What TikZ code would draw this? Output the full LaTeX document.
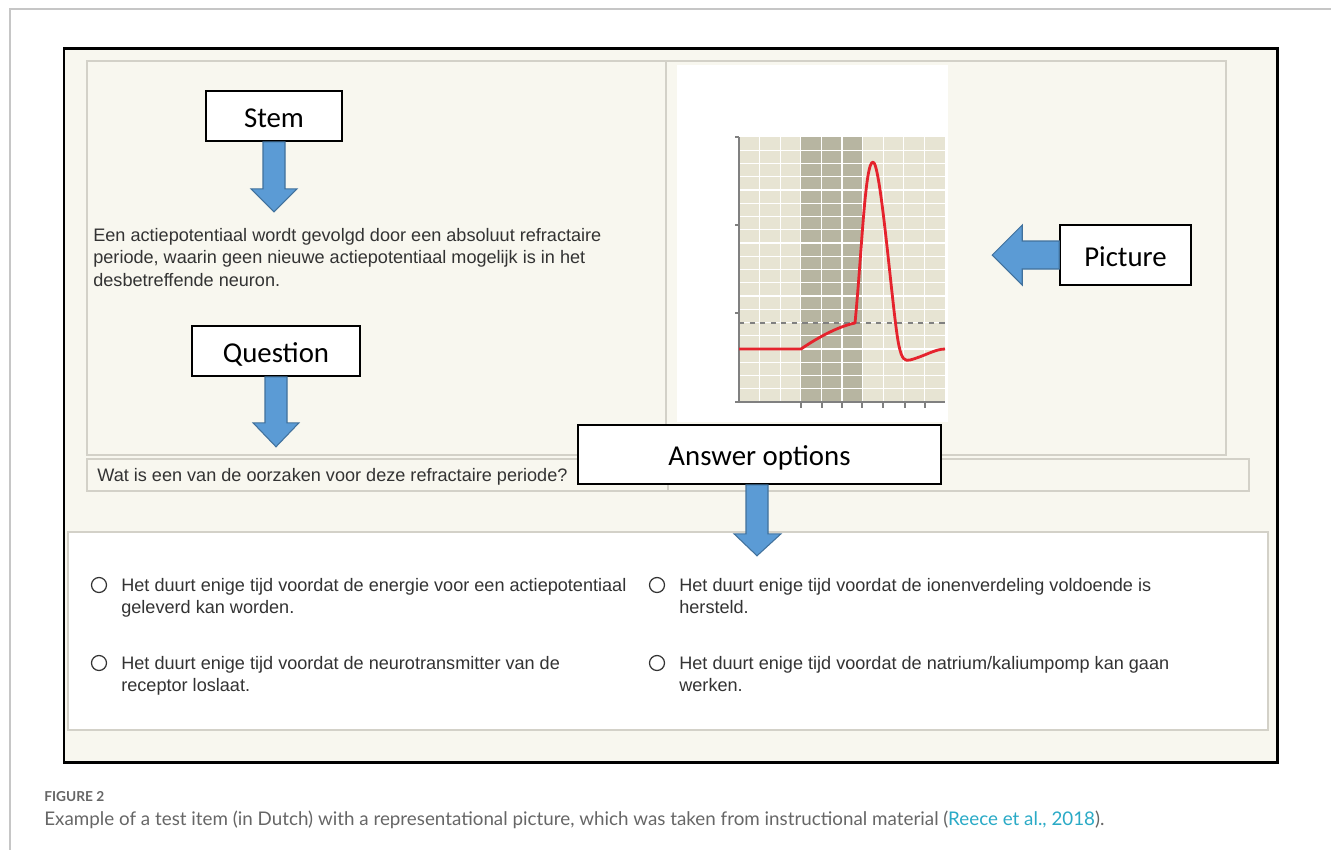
\documentclass[tikz,border=0pt]{standalone}
\usepackage{fontspec}
\setmainfont{Liberation Sans}
\newfontfamily\calloutfont{Carlito}
\newfontfamily\captionfont{Lato}
\usetikzlibrary{calc}

\definecolor{framecream}{HTML}{F8F7EF}
\definecolor{panelline}{HTML}{D3D1C8}
\definecolor{arrowblue}{HTML}{5B9BD5}
\definecolor{arrowedge}{HTML}{41719C}
\definecolor{gridbg}{HTML}{E7E4D3}
\definecolor{gridband}{HTML}{B7B5A1}
\definecolor{curvered}{HTML}{E5232D}
\definecolor{itemgray}{HTML}{333333}
\definecolor{capgray}{HTML}{666666}
\definecolor{citeteal}{HTML}{2AAAC6}
\definecolor{pageline}{HTML}{C6C6C6}

\tikzset{
  callout/.style={draw=black, line width=0.9pt, fill=white, inner sep=0pt, text height=12.6pt, text depth=0pt,
    font=\calloutfont\fontsize{16.4}{19}\selectfont},
  blockarrow/.style={fill=arrowblue, draw=arrowedge, line width=0.6pt},
  itemtext/.style={inner sep=0pt, anchor=north west, align=left, text=itemgray, font=\fontsize{10.3}{12.75}\selectfont},
  radio/.style={circle, draw=itemgray, line width=0.7pt, minimum size=0.3cm, inner sep=0pt},
  panel/.style={draw=panelline, line width=0.7pt},
}

\begin{document}
\begin{tikzpicture}[x=0.02cm, y=-0.02cm]
  \useasboundingbox (0,0) rectangle (1331,850);
  % page edge
  \draw[pageline, line width=0.8pt] (1331,9) -- (10,9) -- (10,850);
  % test item frame
  \fill[framecream] (64,48) rectangle (1277,762);
  \draw[panel] (87,61) rectangle (1226,455);
  \draw[panel] (666,61) -- (666,455);
  \draw[panel] (87,459) rectangle (1249,491);
  \draw[panel] (668,459) -- (668,491);
  \draw[panel, fill=white] (68,532) rectangle (1268,730);
  \draw[line width=1.7pt] (64,48) rectangle (1277,762);

  % action potential picture
  \fill[white] (677,65) rectangle (948,422);
  \fill[gridbg] (739,137) rectangle (945,402);
  \fill[gridband] (801,137) rectangle (862,402);
  \foreach \k in {1,...,9}
    \draw[white, line width=0.7pt] ({739+20.6*\k},137) -- ++(0,265);
  \foreach \k in {1,...,19}
    \draw[white, line width=0.6pt] (739,{137+13.25*\k}) -- ++(206,0);
  \draw[gray, line width=0.8pt] (739,137) -- (739,402) -- (945,402);
  \foreach \ty in {137,225,313,402}
    \draw[gray, line width=0.6pt] (735,\ty) -- (739,\ty);
  \foreach \tx in {801,822,842,862,883,905,925}
    \draw[gray, line width=0.6pt] (\tx,402) -- (\tx,408);
  \draw[gray, dashed, line width=0.9pt] (739,323) -- (945,323);
  \draw[curvered, line width=1.6pt, line join=round]
    (739,349) -- (801,349) .. controls (820,336) and (840,326) .. (855,323)
    .. controls (862,250) and (865,162) .. (873,162)
    .. controls (881,162) and (893,320) .. (899,346)
    .. controls (902,360) and (905,361) .. (910,360)
    .. controls (925,356) and (935,349) .. (945,349);

  % texts of the item
  \node[itemtext] (stemtext) at (93,228) {Een actiepotentiaal wordt gevolgd door een absoluut refractaire\\periode, waarin geen nieuwe actiepotentiaal mogelijk is in het\\desbetreffende neuron.};
  \node[itemtext] (questiontext) at (97,468) {Wat is een van de oorzaken voor deze refractaire periode?};
  \node[radio] (radioA) at (99,585) {};
  \node[itemtext] (optA) at (121,578) {Het duurt enige tijd voordat de energie voor een actiepotentiaal\\geleverd kan worden.};
  \node[radio] (radioB) at (657,585) {};
  \node[itemtext] (optB) at (679,578) {Het duurt enige tijd voordat de ionenverdeling voldoende is\\hersteld.};
  \node[radio] (radioC) at (99,663) {};
  \node[itemtext] (optC) at (121,656) {Het duurt enige tijd voordat de neurotransmitter van de\\receptor loslaat.};
  \node[radio] (radioD) at (657,663) {};
  \node[itemtext] (optD) at (679,656) {Het duurt enige tijd voordat de natrium/kaliumpomp kan gaan\\werken.};

  % callouts
  \node[callout, minimum width=2.72cm, minimum height=1cm] (stem) at (274,116) {Stem};
  \node[callout, minimum width=3.36cm, minimum height=1cm] (question) at (276,351) {Question};
  \node[callout, minimum width=7.26cm, minimum height=1.18cm] (answers) at (759.5,454.5) {Answer options};
  \node[callout, minimum width=2.62cm, minimum height=1.2cm] (picture) at (1125.5,255) {Picture};

  \draw[blockarrow] ($(stem.south)+(-11,0)$) -- ++(0,47) -- ++(-12,0) -- ($(stem.south)+(0,70)$)
    -- ($(stem.south)+(23,47)$) -- ++(-12,0) -- ($(stem.south)+(11,0)$) -- cycle;
  \draw[blockarrow] ($(question.south)+(-11,0)$) -- ++(0,46) -- ++(-12,0) -- ($(question.south)+(0,70)$)
    -- ($(question.south)+(23,46)$) -- ++(-12,0) -- ($(question.south)+(11,0)$) -- cycle;
  \draw[blockarrow] ($(answers.south)+(-13.5,0)$) -- ++(0,49) -- ++(-12,0) -- ($(answers.south)+(-2.5,71)$)
    -- ($(answers.south)+(21.5,49)$) -- ++(-13,0) -- ($(answers.south)+(8.5,0)$) -- cycle;
  \draw[blockarrow] ($(picture.west)+(0,-14)$) -- ++(-37,0) -- ++(0,-16) -- ($(picture.west)+(-67,0)$)
    -- ($(picture.west)+(-37,30)$) -- ++(0,-16) -- ($(picture.west)+(0,14)$) -- cycle;

  % caption
  \node[inner sep=0pt, anchor=base west, text=capgray, font=\captionfont\bfseries\fontsize{7.8}{9}\selectfont] (figlabel) at (44,801) {FIGURE 2};
  \node[inner sep=0pt, anchor=base west, text=capgray, font=\captionfont\fontsize{10.7}{12}\selectfont] (caption) at (44,825)
    {Example of a test item (in Dutch) with a representational picture, which was taken from instructional material (\textcolor{citeteal}{Reece et al., 2018}).};
\end{tikzpicture}
\end{document}
